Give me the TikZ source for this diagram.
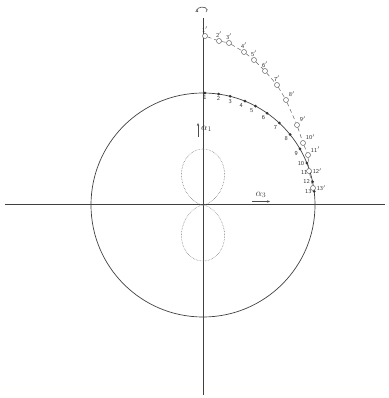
\documentclass[tikz,border=0pt]{standalone}
\usetikzlibrary{arrows.meta}
\begin{document}
\begin{tikzpicture}[
  x=1pt, y=1pt, >={Stealth[length=3pt,width=2.4pt]},
  axis/.style={draw=black!75},
  dot/.style={circle, fill=black!80, inner sep=0pt, minimum size=3pt},
  ring/.style={circle, draw=black!60, fill=white, inner sep=0pt, minimum size=5pt, line width=0.5pt},
  num/.style={font=\sffamily\fontsize{6}{7}\selectfont, text=black!80, inner sep=0.8pt},
  track/.style={draw=black!60, dash pattern=on 4pt off 3pt, line width=0.5pt},
  lobe/.style={draw=black!55, densely dotted, line width=0.55pt},
  sym/.style={font=\normalsize, text=black!75, inner sep=0pt}
]
\useasboundingbox (-203,-193) rectangle (185,205);
\coordinate (O) at (0,0);
\coordinate (xl) at (-198,0);
\coordinate (xr) at (182,0);
\coordinate (yt) at (0,187);
\coordinate (yb) at (0,-190);
\draw[axis, line width=1pt] (xl) -- (xr);
\draw[axis, line width=0.8pt] (yb) -- (yt);
\draw[black!75, line width=0.7pt] (O) circle (112);
% dotted figure eight round the origin
\draw[lobe] plot[domain=0:360, samples=144, smooth]
  ({56*cos(\x)*cos(\x)*sin(\x)}, {56*cos(\x)*cos(\x)*cos(\x)});
% points on the circle
\foreach \a [count=\i] in {1,8,14,22,28,35,43,51,60,68,73,78,83}
  \node[dot] (p\i) at (90-\a:112) {};
\foreach \i in {1,2,3}
  \node[num, anchor=north] at (p\i.south) {\i};
\foreach \i in {4,...,9}
  \node[num, anchor=north east] at (p\i.south west) {\i};
\foreach \i in {10,...,13}
  \node[num, anchor=east] at (p\i.west) {\i};
% primed points outside
\foreach \p [count=\i] in {(2,169),(16,164),(26,162),(41,153),(51,145),(62,134),(74,120),
                           (83,105),(94,80),(100,62),(105,50),(106,34),(110,17)}
  \node[ring] (q\i) at \p {};
\foreach \i [count=\j from 2] in {1,...,12}
  \draw[track] (q\i) -- (q\j);
\foreach \i in {1,...,7}
  \node[num, anchor=south] at (q\i.north) {\i$'$};
\foreach \i in {8,...,11}
  \node[num, anchor=south west] at (q\i.north east) {\i$'$};
\foreach \i in {12,13}
  \node[num, anchor=west] at (q\i.east) {\i$'$};
% angle labels
\coordinate (a1s) at (-5,68);
\coordinate (a1e) at (-5,82);
\draw[->, black!70, line width=0.5pt] (a1s) -- (a1e);
\node[sym, anchor=west] (a1) at (-2,76) {$\alpha_1$};
\node[sym] (a3) at (58,10) {$\alpha_3$};
\coordinate (a3s) at (49,3.5);
\coordinate (a3e) at (67,3.5);
\draw[->, black!70, line width=0.5pt] (a3s) -- (a3e);
% rotation sign on the axis
\coordinate (rot) at (-1,195);
\draw[->, black!70, line width=0.6pt] (rot) ++(4,-2) arc[start angle=-40, end angle=220, x radius=5, y radius=3];
\end{tikzpicture}
\end{document}
